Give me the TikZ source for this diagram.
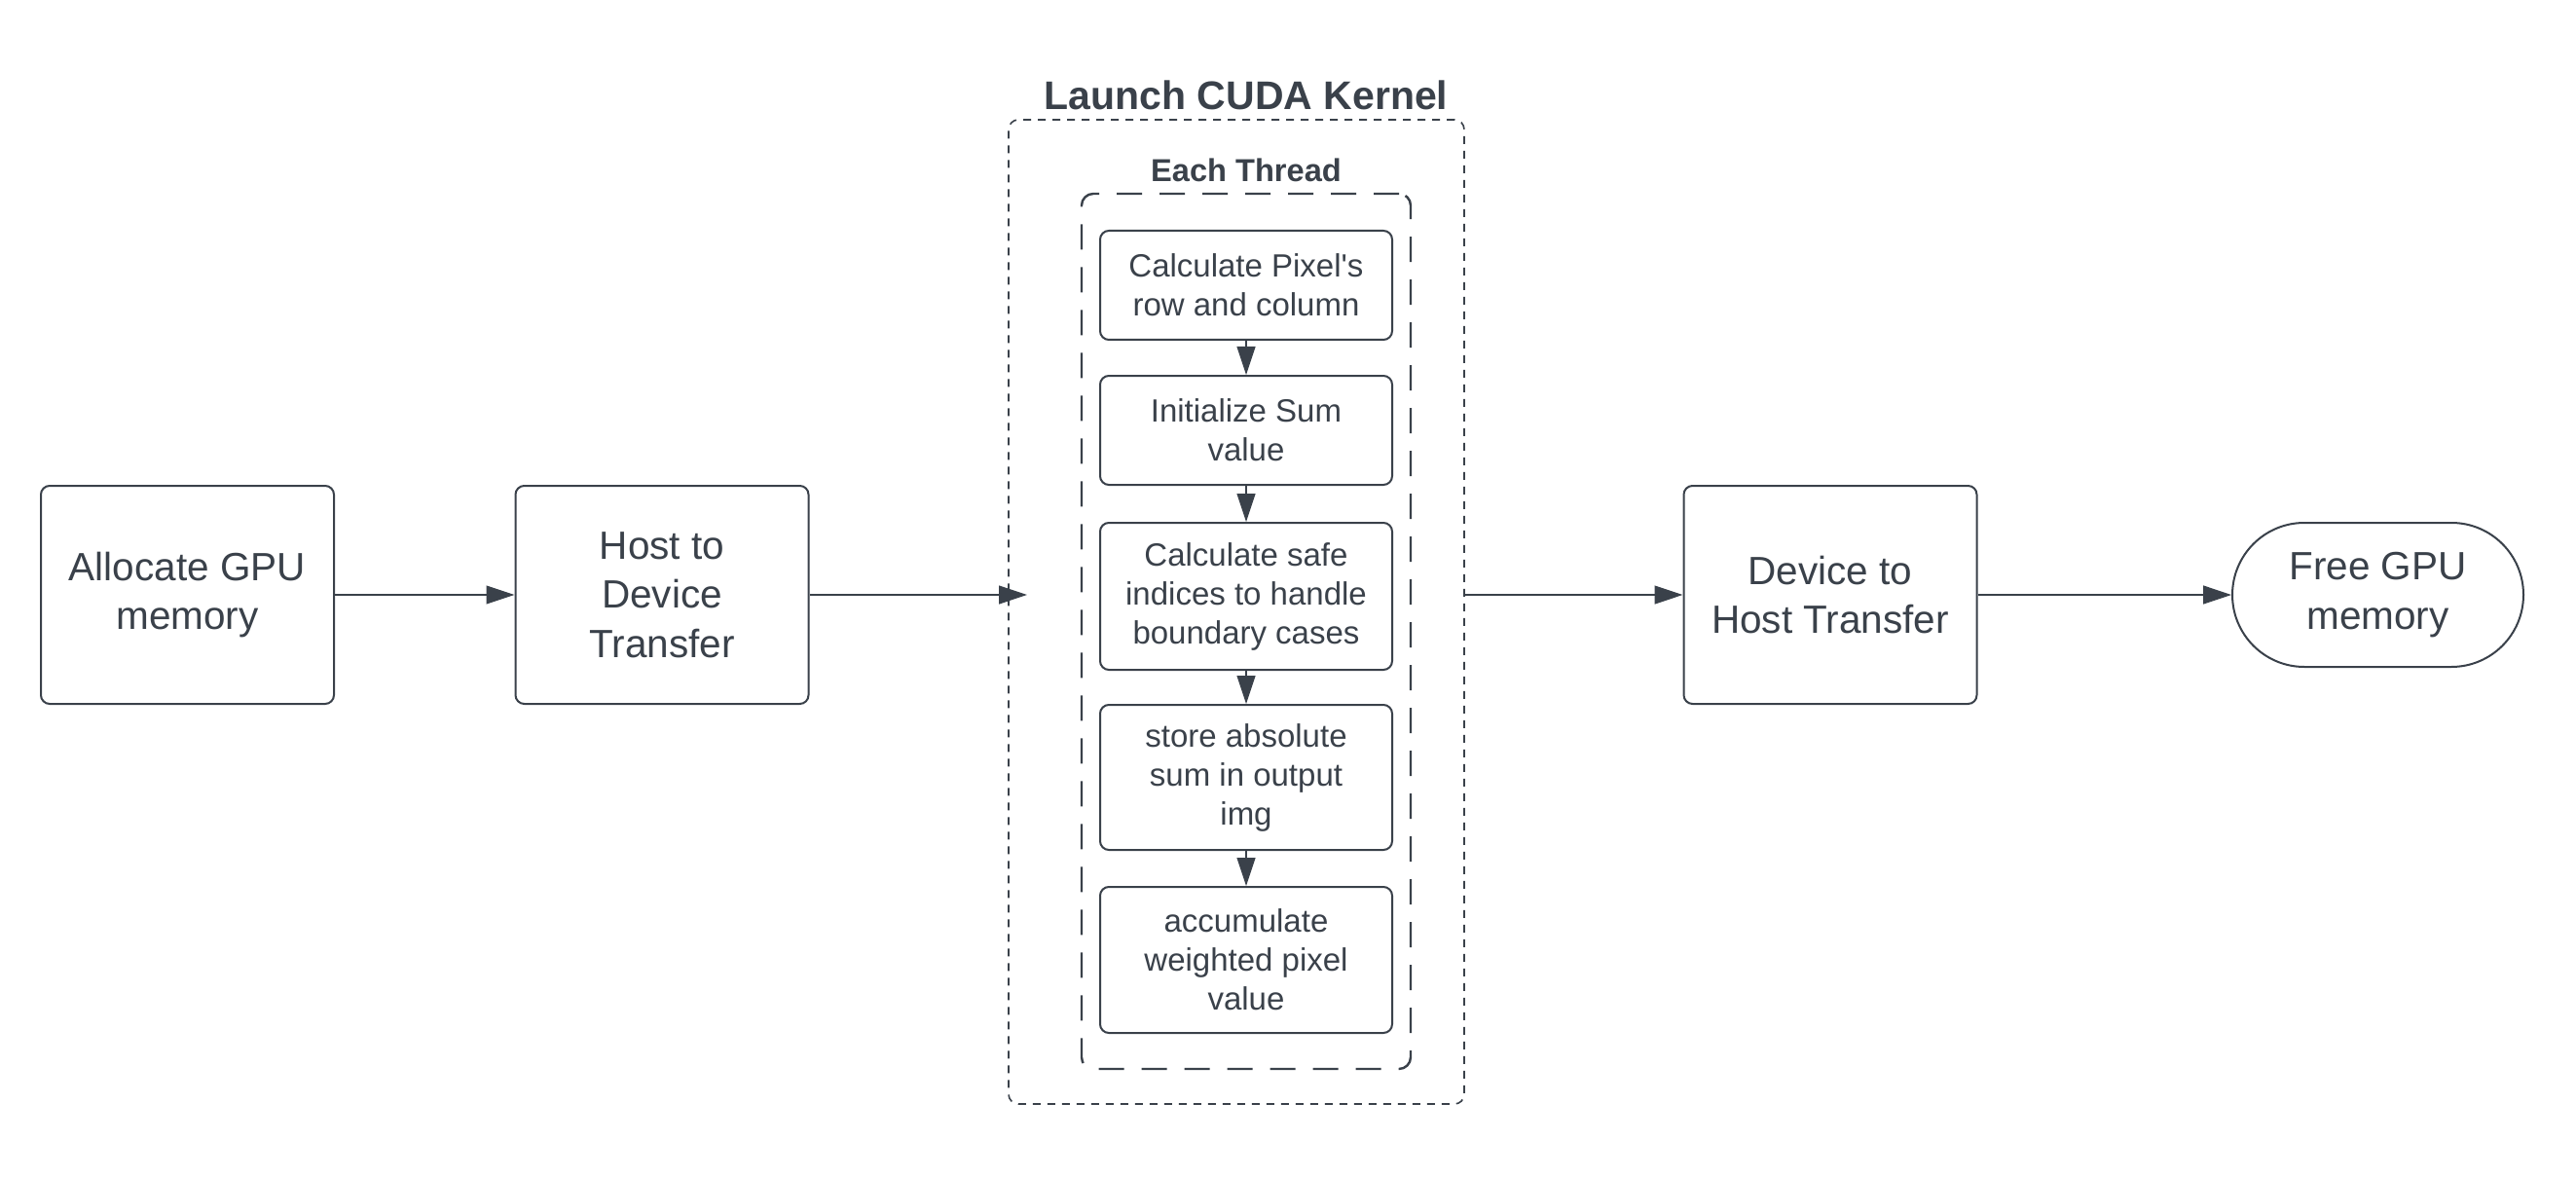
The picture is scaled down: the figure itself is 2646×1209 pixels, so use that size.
\documentclass[tikz,border=0pt]{standalone}
\usepackage{fontspec}
\setmainfont{Liberation Sans}
\usetikzlibrary{arrows.meta}
\definecolor{ink}{HTML}{3A414A}

\begin{document}
\begin{tikzpicture}[x=0.5pt, y=-0.5pt,
    stepbox/.style={draw=ink, line width=1pt, rounded corners=4.5pt, text=ink, inner sep=0pt, align=center},
    bigbox/.style={stepbox, minimum width=150.5pt, minimum height=112pt, font=\fontsize{20.25}{25.3}\selectfont},
    smallbox/.style={stepbox, minimum width=150pt, font=\fontsize{16.5}{20}\selectfont},
    flow/.style={draw=ink, line width=0.6pt, -{Triangle[length=14.5pt,width=9.5pt]}}]
                % page
                \fill[white] (0,0) rectangle (2646,1209);
                \useasboundingbox (0,0) rectangle (2646,1209);

                % Host side boxes
                \node[bigbox] (alloc) at (192.5,611) {Allocate GPU\\memory};
                \node[bigbox] (host) at (680,611) {Host to\\Device\\Transfer};

                % Kernel group
                \node[draw=ink, line width=0.8pt, rounded corners=5pt, dash pattern=on 4pt off 3.5pt,
                      minimum width=234pt, minimum height=505.5pt] (kernel) at (1270,628.5) {};
                \node[text=ink, anchor=base, font=\bfseries\fontsize{20.5}{24}\selectfont] (kerneltitle) at (1280,113) {Launch CUDA Kernel};
                \coordinate (kernelin) at (1055,611);

                % Thread group
                \node[draw=ink, line width=1.2pt, rounded corners=6pt, dash pattern=on 13pt off 9pt,
                      minimum width=169pt, minimum height=449.5pt] (thread) at (1280,648.5) {};
                \node[text=ink, anchor=base, font=\bfseries\fontsize{16.3}{20}\selectfont] (threadtitle) at (1280,187) {Each Thread};

                % Thread steps
                \node[smallbox, minimum height=56pt] (rowcol) at (1280,293) {Calculate Pixel\textquotesingle s\\row and column};
                \node[smallbox, minimum height=56pt] (initsum) at (1280,442) {Initialize Sum\\value};
                \node[smallbox, minimum height=75.5pt] (safeidx) at (1280,612.5) {Calculate safe\\indices to handle\\boundary cases};
                \node[smallbox, minimum height=74.5pt] (store) at (1280,798.5) {store absolute\\sum in output\\img};
                \node[smallbox, minimum height=75pt] (accum) at (1280,986) {accumulate\\weighted pixel\\value};

                % Device side boxes
                \node[bigbox] (device) at (1880,611) {Device to\\Host Transfer};
                \node[stepbox, minimum width=149.5pt, minimum height=74pt, rounded corners=37pt,
                      font=\fontsize{20.25}{25.3}\selectfont] (free) at (2442.5,611) {Free GPU\\memory};

                % Arrows
                \draw[flow] (alloc) -- (host);
                \draw[flow] (host) -- (kernelin);
                \draw[flow] (rowcol) -- (initsum);
                \draw[flow] (initsum) -- (safeidx);
                \draw[flow] (safeidx) -- (store);
                \draw[flow] (store) -- (accum);
                \draw[flow] (kernel.east |- device.west) -- (device);
                \draw[flow] (device) -- (free);
            \end{tikzpicture}
\end{document}
